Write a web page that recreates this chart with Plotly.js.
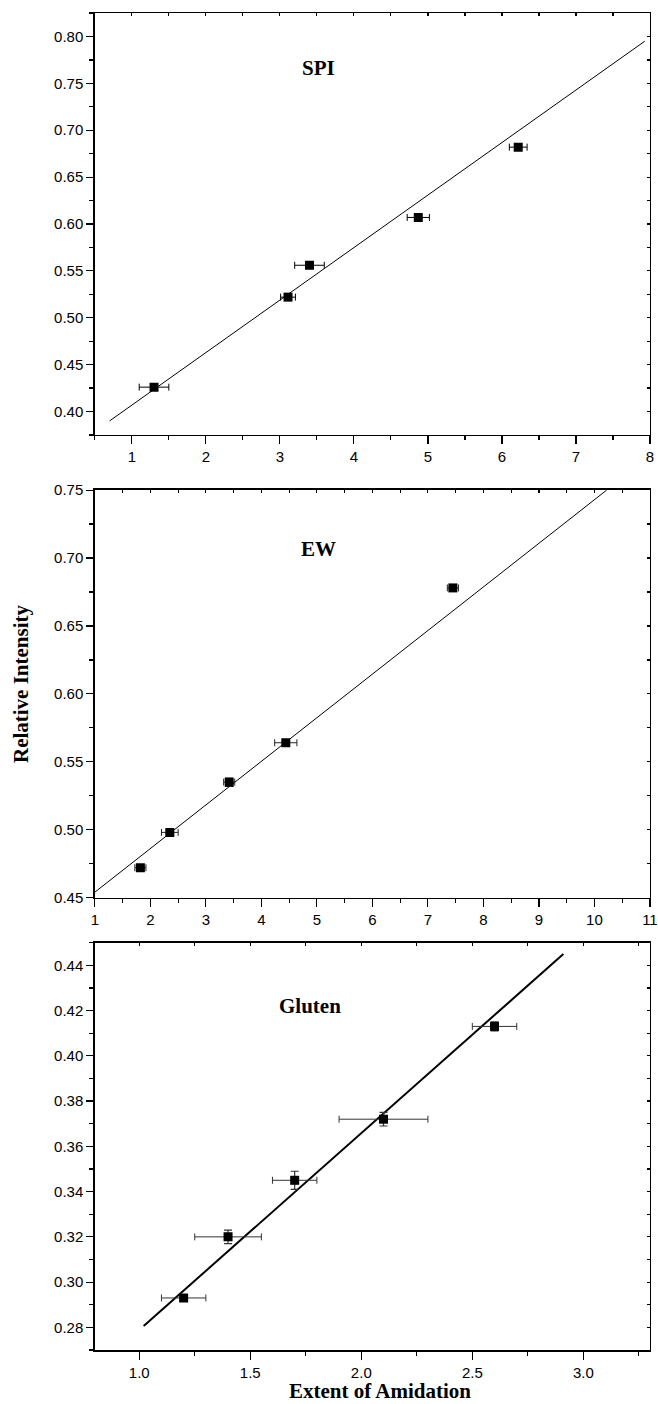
<!DOCTYPE html>
<html>
<head>
<meta charset="utf-8">
<script src="https://cdn.plot.ly/plotly-3.0.1.min.js"></script>
<style>html,body{margin:0;padding:0;background:#fff;}#chart{width:658px;height:1404px;}</style>
</head>
<body>
<div id="chart"></div>
<script>
// ---- SPI ----
const spiX = [1.30, 3.11, 3.40, 4.87, 6.22];
const spiY = [0.426, 0.522, 0.556, 0.607, 0.682];
const spiXErr = [0.20, 0.10, 0.20, 0.15, 0.12];
const spiFitX = [0.70, 7.93];
const spiFitY = [0.390, 0.795];

// ---- EW ----
const ewX = [1.82, 2.35, 3.42, 4.44, 7.45];
const ewY = [0.472, 0.498, 0.535, 0.564, 0.678];
const ewXErr = [0.10, 0.15, 0.10, 0.20, 0.10];
const ewYErr = [0.001, 0.001, 0.003, 0.001, 0.001];
const ewFitX = [1.00, 10.22];
const ewFitY = [0.454, 0.750];

// ---- Gluten ----
const glX = [1.20, 1.40, 1.70, 2.10, 2.60];
const glY = [0.293, 0.320, 0.345, 0.372, 0.413];
const glXErr = [0.10, 0.15, 0.10, 0.20, 0.10];
const glYErr = [0.001, 0.003, 0.004, 0.003, 0.002];
const glFitX = [1.02, 2.91];
const glFitY = [0.2806, 0.445];

const panelLabels = ['SPI', 'EW', 'Gluten'];
const yTitle = 'Relative Intensity';
const xTitle = 'Extent of Amidation';

const tickFont = {family: 'Liberation Sans, Arial, sans-serif', size: 15, color: '#000'};
const serifBold = {family: 'Liberation Serif, Times New Roman, serif', size: 21, color: '#000'};

function pts(x, y, ex, ey, xa, ya, col) {
  const t = {x: x, y: y, xaxis: xa, yaxis: ya, mode: 'markers', type: 'scatter',
    marker: {symbol: 'square', size: 9, color: '#000'},
    error_x: {type: 'data', array: ex, visible: true, color: col, thickness: 1, width: 3.5},
    showlegend: false, hoverinfo: 'skip'};
  if (ey) t.error_y = {type: 'data', array: ey, visible: true, color: col, thickness: 1.2, width: 4};
  return t;
}
function fit(x, y, xa, ya, w) {
  return {x: x, y: y, xaxis: xa, yaxis: ya, mode: 'lines', type: 'scatter',
    line: {color: '#000', width: w}, showlegend: false, hoverinfo: 'skip'};
}
function empty(xa, ya) {
  return {x: [], y: [], xaxis: xa, yaxis: ya, type: 'scatter', mode: 'markers', showlegend: false};
}

const data = [
  fit(spiFitX, spiFitY, 'x', 'y', 1),
  pts(spiX, spiY, spiXErr, null, 'x', 'y', '#000'),
  fit(ewFitX, ewFitY, 'x2', 'y2', 1),
  pts(ewX, ewY, ewXErr, ewYErr, 'x2', 'y2', '#222'),
  fit(glFitX, glFitY, 'x3', 'y3', 2),
  pts(glX, glY, glXErr, glYErr, 'x3', 'y3', '#333'),
  empty('x4', 'y'), empty('x', 'y4'),
  empty('x5', 'y2'), empty('x2', 'y5'),
  empty('x6', 'y3'), empty('x3', 'y6')
];

const xd = [0.1441, 0.9878];
const yd = [[0.6902, 0.9907], [0.3606, 0.6510], [0.03846, 0.32856]];

function mainX(anchor, range, dtick, minor, fmt) {
  return {domain: xd, anchor: anchor, range: range, dtick: dtick, tick0: 0,
    ticks: 'outside', ticklen: 8, tickwidth: 1.2, tickcolor: '#000',
    minor: {dtick: minor, ticks: 'outside', ticklen: 4, tickwidth: 1.2, tickcolor: '#000'},
    showline: true, linecolor: '#000', linewidth: 1.5, mirror: true,
    showgrid: false, zeroline: false, tickfont: tickFont, tickformat: fmt, fixedrange: true};
}
function mainY(anchor, dom, range, dtick, minor, fmt) {
  return {domain: dom, anchor: anchor, range: range, dtick: dtick, tick0: 0,
    ticks: 'outside', ticklen: 7, tickwidth: 1.2, tickcolor: '#000',
    minor: {dtick: minor, ticks: 'outside', ticklen: 4, tickwidth: 1.2, tickcolor: '#000'},
    showline: true, linecolor: '#000', linewidth: 1.5, mirror: true,
    showgrid: false, zeroline: false, tickfont: tickFont, tickformat: fmt, fixedrange: true};
}
function topX(over, anchor, range, dtick) {
  return {overlaying: over, anchor: anchor, side: 'top', range: range, dtick: dtick, tick0: 0,
    ticks: 'inside', ticklen: 3, tickwidth: 1.2, tickcolor: '#000', showticklabels: false,
    showgrid: false, zeroline: false, showline: false, fixedrange: true};
}
function rightY(over, anchor, range, dtick) {
  return {overlaying: over, anchor: anchor, side: 'right', range: range, dtick: dtick, tick0: 0,
    ticks: 'inside', ticklen: 3, tickwidth: 1.2, tickcolor: '#000', showticklabels: false,
    showgrid: false, zeroline: false, showline: false, fixedrange: true};
}

const r1x = [0.5, 8.0], r1y = [0.375, 0.825];
const r2x = [0.999, 11.001], r2y = [0.4499, 0.7501];
const r3x = [0.8, 3.3], r3y = [0.27, 0.45];

function ann(text, x, y, angle) {
  return {text: '<b>' + text + '</b>', xref: 'paper', yref: 'paper', x: x, y: y,
    xanchor: 'center', yanchor: 'middle', textangle: angle || 0, showarrow: false, font: serifBold};
}

const layout = {
  width: 658, height: 1404,
  margin: {l: 0, r: 0, t: 0, b: 0},
  paper_bgcolor: '#fff', plot_bgcolor: '#fff',
  showlegend: false,
  xaxis: mainX('y', r1x, 1, 0.5, 'd'),
  yaxis: mainY('x', yd[0], r1y, 0.05, 0.025, '.2f'),
  xaxis2: mainX('y2', r2x, 1, 0.5, 'd'),
  yaxis2: mainY('x2', yd[1], r2y, 0.05, 0.025, '.2f'),
  xaxis3: mainX('y3', r3x, 0.5, 0.25, '.1f'),
  yaxis3: mainY('x3', yd[2], r3y, 0.02, 0.01, '.2f'),
  xaxis4: topX('x', 'y', r1x, 0.5),
  yaxis4: rightY('y', 'x', r1y, 0.025),
  xaxis5: topX('x2', 'y2', r2x, 0.5),
  yaxis5: rightY('y2', 'x2', r2y, 0.025),
  xaxis6: topX('x3', 'y3', r3x, 0.25),
  yaxis6: rightY('y3', 'x3', r3y, 0.01),
  annotations: [
    ann(panelLabels[0], 0.4848, 0.9516),
    ann(panelLabels[1], 0.4848, 0.6090),
    ann(panelLabels[2], 0.4707, 0.2835),
    ann(yTitle, 0.0319, 0.5135, -90),
    ann(xTitle, 0.5775, 0.0090)
  ]
};

Plotly.newPlot('chart', data, layout, {staticPlot: true, displayModeBar: false});
</script>
</body>
</html>
